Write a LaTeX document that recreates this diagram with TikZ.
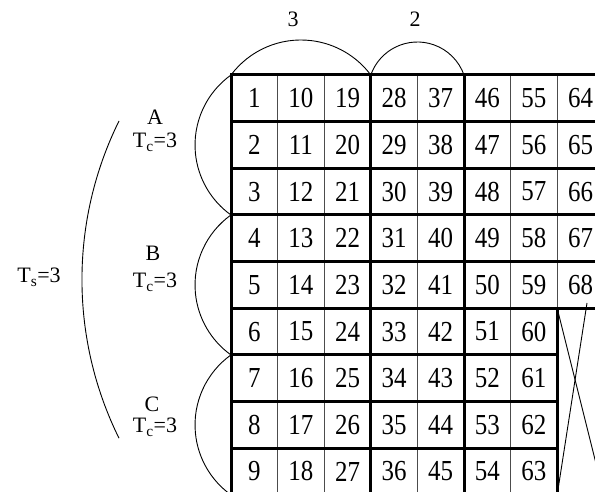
\documentclass[tikz,border=0pt]{standalone}
\usepackage{fontspec}
\setmainfont{Liberation Serif}
\newfontfamily\cellfont[FakeStretch=0.86]{Liberation Serif}
\tikzset{
  cellnum/.style={font=\cellfont\fontsize{29}{29}\selectfont, inner sep=0pt},
  tag/.style={font=\fontsize{22}{22}\selectfont, inner sep=0pt, anchor=base},
  thinrule/.style={line width=1.2pt, black!70},
  thickrule/.style={line width=3pt, line cap=rect},
  bow/.style={line width=0.9pt},
}
\begin{document}
\begin{tikzpicture}[x=1pt, y=1pt]
  \useasboundingbox (0,0) rectangle (595,492);
  \clip (0,0) rectangle (595,492);
  % thin column rules
  \foreach \i in {1,2,4,6,7}
    \draw[thinrule] (231+46.6*\i,417) -- (231+46.6*\i,-2.85);
  % thick column rules
  \foreach \i in {0,3,5}
    \draw[thickrule] (231+46.6*\i,417) -- (231+46.6*\i,-2.85);
  \draw[thickrule] (557.2,183.75) -- (557.2,-2.85);
  % row rules
  \foreach \j in {0,...,5}
    \draw[thickrule] (231,417-46.65*\j) -- (603.8,417-46.65*\j);
  \foreach \j in {6,...,9}
    \draw[thickrule] (231,417-46.65*\j) -- (557.2,417-46.65*\j);
  % cell numbers
  \foreach \c in {0,...,6}
    \foreach \r in {0,...,8} {
      \pgfmathtruncatemacro{\n}{9*\c+\r+1}
      \node[cellnum] (n\n) at (231+46.6*\c+23.3,417-46.65*\r-23.3) {\n};
    }
  \foreach \r in {0,...,4} {
    \pgfmathtruncatemacro{\n}{64+\r}
    \node[cellnum] (n\n) at (580.5,417-46.65*\r-23.3) {\n};
  }
  % crossed-out cells
  \coordinate (xa) at (557.2,183.75);
  \coordinate (xb) at (603.8,-2.85);
  \coordinate (xc) at (587,189);
  \coordinate (xd) at (557.2,-2.85);
  \draw[bow] (xa) -- (xb);
  \draw[bow] (xc) -- (xd);
  % bows on top
  \draw[bow] (231,417) arc[start angle=143.2, end angle=36.8, radius=87.3];
  \draw[bow] (370.8,417) arc[start angle=160.6, end angle=19.4, radius=49.4];
  \node[tag] (w3) at (293,465) {3};
  \node[tag] (w2) at (415,465) {2};
  % bows on the left
  \draw[bow] (231,417) arc[start angle=125.6, end angle=234.4, radius=86.1];
  \draw[bow] (231,277.05) arc[start angle=125.6, end angle=234.4, radius=86.1];
  \draw[bow] (231,137.1) arc[start angle=125.6, end angle=234.4, radius=86.1];
  \draw[bow] (119,371) arc[start angle=153.7, end angle=206.3, radius=358];
  \node[tag] (ga) at (155,367) {A};
  \node[tag] (ta) at (155,344) {T\textsubscript{c}=3};
  \node[tag] (gb) at (153,231) {B};
  \node[tag] (tb) at (155,204) {T\textsubscript{c}=3};
  \node[tag] (gc) at (152,80) {C};
  \node[tag] (tc) at (155,59) {T\textsubscript{c}=3};
  \node[tag] (ts) at (39,209) {T\textsubscript{s}=3};
\end{tikzpicture}
\end{document}
